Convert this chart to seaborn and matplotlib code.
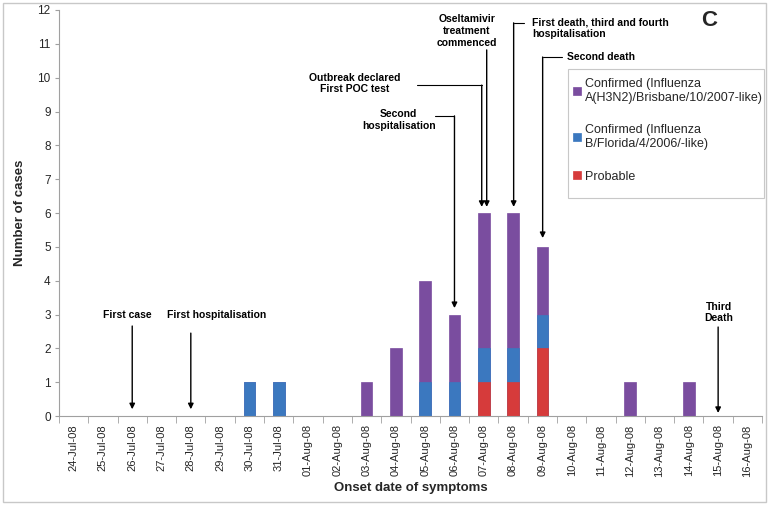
"""Epidemic curve of influenza outbreak cases by onset date (panel C)."""

import numpy as np
import pandas as pd
import matplotlib
matplotlib.use("Agg")
import matplotlib.pyplot as plt
from matplotlib.patches import Rectangle
from matplotlib.ticker import FixedLocator
import seaborn as sns

sns.set_style("white")
plt.rcParams['font.family'] = ['Liberation Sans', 'DejaVu Sans']

# Data
dates = ['24-Jul-08', '25-Jul-08', '26-Jul-08', '27-Jul-08', '28-Jul-08', '29-Jul-08',
         '30-Jul-08', '31-Jul-08', '01-Aug-08', '02-Aug-08', '03-Aug-08', '04-Aug-08',
         '05-Aug-08', '06-Aug-08', '07-Aug-08', '08-Aug-08', '09-Aug-08', '10-Aug-08',
         '11-Aug-08', '12-Aug-08', '13-Aug-08', '14-Aug-08', '15-Aug-08', '16-Aug-08']
probable    = [0, 0, 0, 0, 0, 0, 0, 0, 0, 0, 0, 0, 0, 0, 1, 1, 2, 0, 0, 0, 0, 0, 0, 0]
confirmed_b = [0, 0, 0, 0, 0, 0, 1, 1, 0, 0, 0, 0, 1, 1, 1, 1, 1, 0, 0, 0, 0, 0, 0, 0]
confirmed_a = [0, 0, 0, 0, 0, 0, 0, 0, 0, 0, 1, 2, 3, 2, 4, 4, 2, 0, 0, 1, 0, 1, 0, 0]

labels = ['Confirmed (Influenza\nA(H3N2)/Brisbane/10/2007-like)',
          'Confirmed (Influenza\nB/Florida/4/2006/-like)',
          'Probable']
colors = ['#7a4d9f', '#3b78bf', '#d63b3b']

df = pd.DataFrame({'date': dates, 'probable': probable,
                   'confirmed_b': confirmed_b, 'confirmed_a': confirmed_a})
df['b_top'] = df['probable'] + df['confirmed_b']
df['a_top'] = df['b_top'] + df['confirmed_a']

fig = plt.figure(figsize=(7.69, 5.05), dpi=100)
ax = fig.add_axes([0.0767, 0.1762, 0.9143, 0.8040])

# stacked bars drawn as overlapping cumulative layers
for col, color, lab in zip(['a_top', 'b_top', 'probable'], colors, labels):
    sns.barplot(data=df, x='date', y=col, order=dates, color=color, saturation=1,
                width=0.4, errorbar=None, label=lab, ax=ax,
                edgecolor=color, linewidth=0.5)

ax.set_xlim(-0.5, len(dates) - 0.5)
ax.set_ylim(0, 12)
ax.set_yticks(range(0, 13))
ax.tick_params(axis='y', labelsize=8.5, length=3, color='#a0a0a0', left=True, pad=3)
ax.set_xticks(range(len(dates)))
ax.set_xticklabels(dates, rotation=90, fontsize=8)
ax.tick_params(axis='x', which='major', length=0, pad=6)
ax.xaxis.set_minor_locator(FixedLocator(np.arange(-0.5, len(dates), 1.0)))
ax.tick_params(axis='x', which='minor', length=5, color='#a0a0a0', bottom=True)

for side in ['top', 'right']:
    ax.spines[side].set_visible(False)
for side in ['left', 'bottom']:
    ax.spines[side].set_color('#a0a0a0')
    ax.spines[side].set_linewidth(0.8)

ax.set_xlabel('Onset date of symptoms', fontsize=9.5, fontweight='bold', labelpad=4)
ax.set_ylabel('Number of cases', fontsize=9.5, fontweight='bold', labelpad=8)

# Annotations
tf = dict(fontsize=7.5, fontweight='bold', color='black')
ap = dict(arrowstyle='-|>', color='black', lw=1, mutation_scale=8, shrinkA=0, shrinkB=0)

def arrow(x, y0, y1):
    ax.annotate('', xy=(x, y1), xytext=(x, y0), arrowprops=ap, annotation_clip=False)

ax.text(1.84, 2.99, 'First case', ha='center', va='center', **tf)
arrow(2, 2.66, 0.2)
ax.text(4.88, 2.99, 'First hospitalisation', ha='center', va='center', **tf)
arrow(4, 2.45, 0.2)

ax.text(11.1, 8.75, 'Second\nhospitalisation', ha='center', va='center', linespacing=1.2, **tf)
ax.plot([12.33, 13.0], [8.87, 8.87], color='black', lw=0.8)
arrow(13.0, 8.87, 3.19)

ax.text(9.59, 9.83, 'Outbreak declared\nFirst POC test', ha='center', va='center', linespacing=1.1, **tf)
ax.plot([11.71, 13.93], [9.78, 9.78], color='black', lw=0.8)
arrow(13.93, 9.78, 6.18)

ax.text(13.42, 11.38, 'Oseltamivir\ntreatment\ncommenced', ha='center', va='center', linespacing=1.2, **tf)
arrow(14.1, 10.82, 6.18)

ax.text(15.64, 11.47, 'First death, third and fourth\nhospitalisation', ha='left', va='center', linespacing=1.2, **tf)
ax.plot([15.36, 15.02], [11.62, 11.62], color='black', lw=0.8)
arrow(15.02, 11.62, 6.18)

ax.text(16.83, 10.61, 'Second death', ha='left', va='center', **tf)
ax.plot([16.66, 16.01], [10.61, 10.61], color='black', lw=0.8)
arrow(16.01, 10.61, 5.26)

ax.text(22.02, 3.07, 'Third\nDeath', ha='center', va='center', linespacing=1.1, **tf)
arrow(22.0, 2.63, 0.09)

ax.text(21.7, 11.7, 'C', ha='center', va='center', fontsize=16, fontweight='bold')

# legend: entries without frame, box drawn separately
leg = ax.legend(loc='upper left', bbox_to_anchor=(573 / 769, 1 - 78 / 505),
                bbox_transform=fig.transFigure, fontsize=9.0, frameon=False,
                handlelength=0.6, handleheight=0.6, handletextpad=0.35,
                labelspacing=1.65, borderpad=0, borderaxespad=0)
for t in leg.get_texts():
    t.set_linespacing(1.2)
fig.patches.append(Rectangle((568 / 769, 1 - 198 / 505), 196 / 769, 129 / 505,
                             transform=fig.transFigure, fill=False,
                             edgecolor='#c8c8c8', lw=0.8))

fig.patches.append(Rectangle((0.004, 0.006), 0.992, 0.988, transform=fig.transFigure,
                             fill=False, edgecolor='#c8c8c8', lw=1))

fig.savefig('out.png', dpi=100)
